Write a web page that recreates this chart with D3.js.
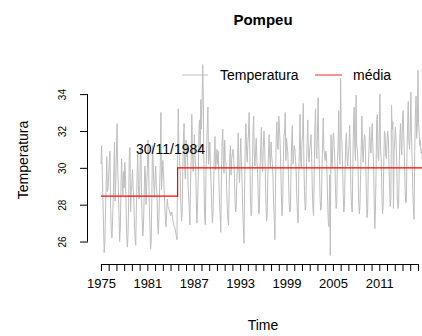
<!DOCTYPE html>
<html><head><meta charset="utf-8">
<script src="https://cdn.jsdelivr.net/npm/d3@7"></script>
<style>
html,body{margin:0;padding:0;background:#fff;}
svg{display:block;font-family:"Liberation Sans",Arial,Helvetica,sans-serif;}
</style></head>
<body><svg id="chart" width="422" height="336"></svg>
<script>
// ---- data (monthly, Jan 1975 .. Dec 2016) ----
const startYear = 1975;
const temperatura = [
30.2,31.2,29.8,28.4,26.9,25.4,25.9,27.6,29.0,30.6,28.7,28.9,
29.6,30.4,30.9,27.8,26.6,26.2,27.1,28.3,29.8,31.4,28.2,29.4,
30.8,32.4,29.9,28.9,27.4,26.0,26.7,28.8,30.5,29.2,28.5,29.8,
28.9,30.3,29.6,27.9,26.3,25.7,26.4,28.1,30.7,31.1,27.6,28.7,
29.2,29.9,28.8,28.2,26.9,26.1,25.8,27.9,29.4,30.8,29.1,28.3,
28.6,30.6,31.0,28.5,27.2,26.3,26.9,28.4,30.1,29.6,28.0,29.0,
29.9,31.5,30.2,28.0,26.8,25.6,26.0,28.6,31.2,30.3,29.2,28.4,
29.5,30.1,29.0,28.6,27.0,26.4,27.3,28.9,30.2,33.0,28.8,29.6,
30.4,29.8,28.9,28.0,27.2,26.8,27.6,28.3,27.9,27.8,27.7,27.6,
27.4,27.5,27.6,27.3,27.1,26.9,26.8,26.7,26.5,26.3,26.1,30.5,
33.2,31.0,30.4,29.6,28.0,27.1,27.5,29.8,31.6,32.4,30.1,29.4,
31.5,30.6,31.2,29.3,28.4,27.8,26.9,29.1,30.4,32.9,31.0,29.8,
30.2,31.8,30.6,30.1,28.2,27.0,28.1,29.5,31.9,32.6,30.8,33.7,
32.1,33.8,35.6,33.5,29.0,27.3,26.9,29.7,31.2,32.2,33.3,30.2,
30.6,31.4,30.0,29.1,27.8,27.0,27.7,29.2,30.8,31.7,29.9,30.4,
31.0,30.2,30.9,29.4,28.1,27.5,26.5,29.4,31.3,32.1,30.4,29.7,
31.5,30.4,30.3,29.0,27.9,27.2,26.9,28.8,30.7,31.2,29.6,30.5,
30.8,31.0,30.5,29.7,28.3,27.6,27.9,29.5,30.2,31.9,30.0,29.2,
30.5,31.6,30.2,29.3,27.7,26.8,25.9,29.0,31.5,32.4,30.9,30.3,
31.3,31.9,33.0,31.0,28.4,27.4,27.6,29.8,32.0,32.8,30.7,30.1,
30.9,31.6,30.4,29.9,28.6,27.5,27.8,30.1,31.2,32.2,30.3,29.8,
31.1,32.0,31.2,30.0,28.2,27.1,27.4,29.6,30.8,31.8,30.5,30.0,
31.4,30.6,30.3,29.5,28.0,27.2,26.1,29.3,31.6,32.5,31.1,31.0,
32.8,32.2,31.4,30.2,28.5,27.4,28.0,30.3,31.7,31.9,33.0,30.4,
31.6,31.2,30.8,29.7,28.1,27.6,27.7,29.9,31.4,32.3,30.2,30.6,
31.2,31.0,30.4,29.8,28.3,27.5,27.0,29.6,30.9,32.9,30.4,30.0,
31.4,31.8,33.5,30.1,28.7,27.7,27.9,30.0,31.5,32.6,30.8,30.3,
31.0,31.3,31.8,30.6,28.9,27.8,27.4,29.8,32.1,33.2,30.9,30.5,
31.8,33.8,31.3,30.0,28.4,27.7,27.9,29.9,31.3,32.7,31.0,30.7,
30.4,30.9,30.7,29.5,27.9,27.0,26.8,29.6,25.25,31.8,30.2,30.0,
31.6,31.9,31.2,30.4,28.8,27.8,28.1,30.4,31.1,33.1,30.6,30.2,
34.85,31.6,31.5,30.2,28.5,27.6,28.0,30.1,31.4,31.9,30.5,30.1,
30.8,31.2,32.3,30.9,28.7,27.9,27.6,30.3,32.4,33.3,31.2,30.4,
33.95,31.2,31.0,30.0,28.2,27.5,27.9,29.7,31.2,32.8,30.9,30.3,
31.3,31.8,31.6,30.1,28.6,27.3,27.8,30.0,31.0,32.2,31.3,30.8,
31.7,32.4,31.2,30.3,28.4,26.7,27.7,29.9,32.6,32.9,30.6,30.4,
31.9,34.0,30.9,30.5,28.6,27.5,27.9,30.4,32.0,31.8,30.7,30.5,
31.4,32.0,31.6,30.2,28.9,27.9,28.3,33.4,32.1,32.5,27.8,30.9,
31.5,32.2,31.4,30.3,28.4,27.8,28.0,30.2,31.8,32.4,31.0,30.7,
32.6,33.1,31.8,30.6,28.9,28.1,28.2,30.8,32.5,33.6,31.4,31.0,
32.0,34.1,31.7,30.5,28.7,27.8,27.2,30.9,32.8,33.9,31.6,32.2,
35.3,32.4,31.9,31.2,31.5,30.8,31.0,30.4,32.0,32.9,31.1,30.8
];
// mean segments (break at 30/11/1984)
const meanStarts = [1975, 1984.914];
const meanEnds   = [1984.914, 2016.917];
const meanValues = [28.47, 30.0];
const breakLabel = "30/11/1984";
const breakLabelX = 1984;
const breakLabelY = 31;
const xTickYears = [1975,1976,1977,1978,1979,1980,1981,1982,1983,1984,1985,1986,1987,1988,1989,1990,1991,1992,1993,1994,1995,1996,1997,1998,1999,2000,2001,2002,2003,2004,2005,2006,2007,2008,2009,2010,2011,2012,2013,2014,2015,2016];
const xLabelYears = [1975,1981,1987,1993,1999,2005,2011];
const yTicks = [26,28,30,32,34];
const legendLabels = ["Temperatura","média"];
const colors = {temp:"#bebebe", mean:"#ff0000"};

// ---- layout ----
const svg = d3.select("#chart");
const L = 88, R = 438, T = 57, B = 263;
const pts = temperatura.map((v,i)=>({t: startYear + i/12, v}));
const tExt = d3.extent(pts, d=>d.t), vExt = d3.extent(pts, d=>d.v);
const dt = tExt[1]-tExt[0], dv = vExt[1]-vExt[0];
const x = d3.scaleLinear().domain([tExt[0]-0.04*dt, tExt[1]+0.04*dt]).range([L,R]);
const y = d3.scaleLinear().domain([vExt[0]-0.04*dv, vExt[1]+0.04*dv]).range([B,T]);

// series
svg.append("path").datum(pts)
  .attr("fill","none").attr("stroke",colors.temp).attr("stroke-width",1)
  .attr("d", d3.line().x(d=>x(d.t)).y(d=>y(d.v)));

// mean step line
const stepPts = [];
meanValues.forEach((m,i)=>{ stepPts.push([meanStarts[i],m]); stepPts.push([meanEnds[i],m]); });
svg.append("path").datum(stepPts)
  .attr("fill","none").attr("stroke",colors.mean).attr("stroke-width",1.2)
  .attr("d", d3.line().x(d=>x(d[0])).y(d=>y(d[1])));

// annotation
svg.append("text").attr("x",x(breakLabelX)).attr("y",y(breakLabelY)).attr("dy","0.35em")
  .attr("text-anchor","middle").attr("font-size",14).attr("fill","#000").text(breakLabel);

// x axis
const xAxis = d3.axisBottom(x).tickValues(xTickYears).tickSize(7).tickPadding(8)
  .tickFormat(d=> xLabelYears.includes(d) ? String(d) : "");
const gx = svg.append("g").attr("transform",`translate(0,${B+1})`).call(xAxis);
gx.select(".domain").attr("d", `M${x(xTickYears[0])},0.5H${x(xTickYears[xTickYears.length-1])}`).attr("stroke","#000");
gx.selectAll(".tick line").attr("stroke","#000");
gx.selectAll(".tick text").attr("font-size",13).attr("font-family","Liberation Sans, Arial, sans-serif").attr("fill","#000");

// y axis
const yAxis = d3.axisLeft(y).tickValues(yTicks).tickSize(8).tickFormat(d=>String(d));
const gy = svg.append("g").attr("transform",`translate(${L},0)`).call(yAxis);
gy.select(".domain").attr("d", `M-0.5,${y(yTicks[0])}V${y(yTicks[yTicks.length-1])}`).attr("stroke","#000");
gy.selectAll(".tick line").attr("stroke","#000");
gy.selectAll(".tick text").attr("font-size",10).attr("font-family","Liberation Sans, Arial, sans-serif").attr("fill","#000")
  .attr("x",null).attr("dy",null)
  .attr("transform","translate(-26,0) rotate(-90)").attr("text-anchor","middle").attr("dominant-baseline","central");

// titles
svg.append("text").attr("x",(L+R)/2).attr("y",25).attr("text-anchor","middle")
  .attr("font-size",15).attr("font-weight","bold").text("Pompeu");
svg.append("text").attr("x",(L+R)/2).attr("y",330).attr("text-anchor","middle")
  .attr("font-size",14).text("Time");
svg.append("text").attr("transform",`translate(23,${(T+B)/2}) rotate(-90)`)
  .attr("text-anchor","middle").attr("dominant-baseline","central").attr("font-size",14).text("Temperatura");

// legend (top right, horizontal, no box)
const ly = 75;
const lg = svg.append("g");
lg.append("line").attr("x1",R-256).attr("x2",R-230).attr("y1",ly).attr("y2",ly).attr("stroke",colors.temp).attr("stroke-width",1);
lg.append("text").attr("x",R-218).attr("y",ly).attr("dy","0.35em").attr("font-size",14).text(legendLabels[0]);
lg.append("line").attr("x1",R-123).attr("x2",R-96).attr("y1",ly).attr("y2",ly).attr("stroke",colors.mean).attr("stroke-width",1.3).attr("stroke-opacity",0.65);
lg.append("text").attr("x",R-85).attr("y",ly).attr("dy","0.35em").attr("font-size",14).text(legendLabels[1]);
</script></body></html>
